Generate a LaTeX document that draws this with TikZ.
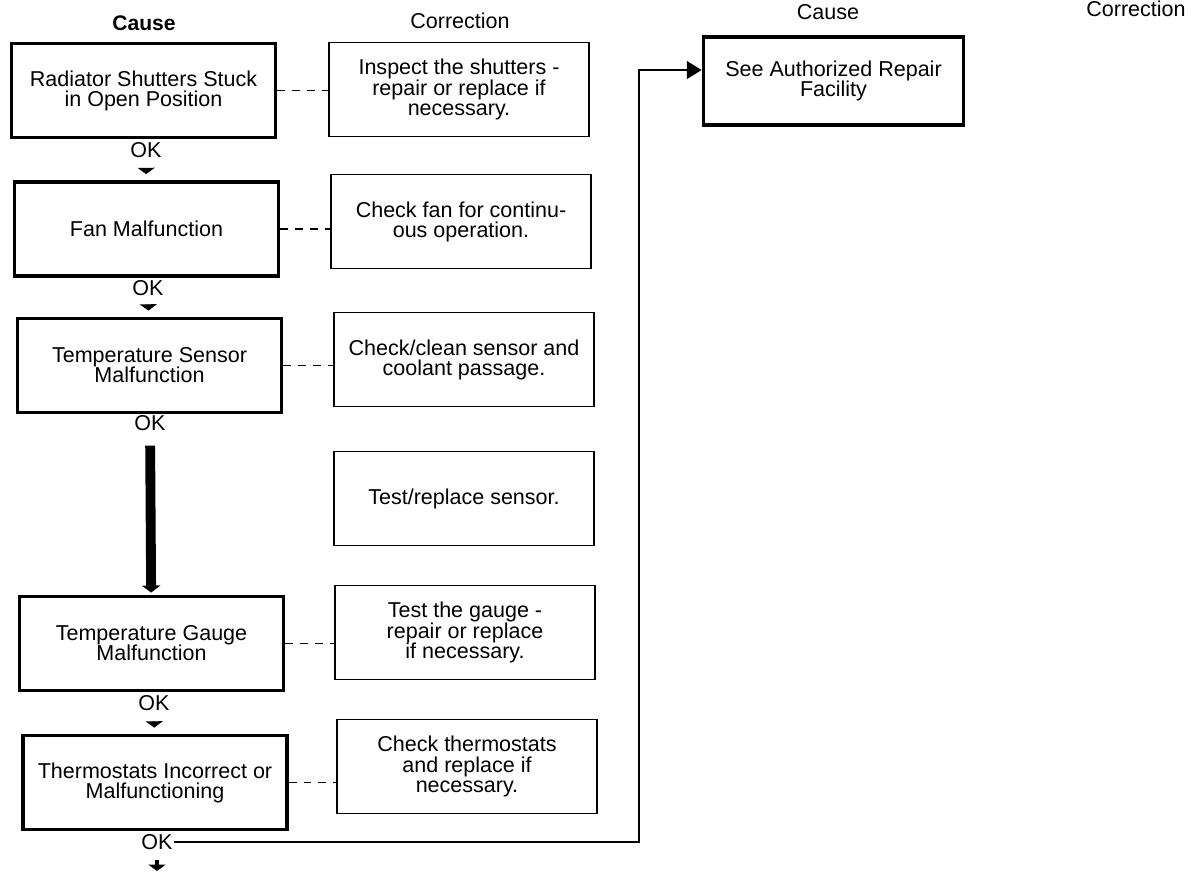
\documentclass[tikz,border=0pt]{standalone}
\usepackage{fontspec}
\setmainfont{Liberation Sans}
\usetikzlibrary{arrows.meta}

\begin{document}
\begin{tikzpicture}[
  x=0.025cm,y=-0.025cm,
  every node/.style={font=\fontsize{15.3}{14.3}\selectfont},
  head/.style={inner sep=1pt},
  causebox/.style={rectangle,draw,line width=2.6pt,minimum width=6.6cm,minimum height=2.35cm,align=center},
  fixbox/.style={rectangle,draw,line width=1.2pt,minimum width=6.5cm,minimum height=2.35cm,align=center},
  oklabel/.style={inner sep=1pt},
  link/.style={line width=1.3pt,dash pattern=on 5.5pt off 5pt},
  okarrow/.style={line width=3.5pt,-{Triangle[width=12pt,length=4.5pt]},shorten <=6.5pt,shorten >=4.3pt},
  bigarrow/.style={line width=7pt,-{Triangle[width=13pt,length=5pt]},shorten <=9.5pt,shorten >=1.5pt},
  arrow/.style={line width=1.6pt,-{Triangle[width=12.5pt,length=10.5pt]}}
]
  \useasboundingbox (0,0) rectangle (1198,871);
  % headings
  \node[head,font=\fontsize{15}{16}\selectfont\bfseries] (hcause) at (144,23) {Cause};
  \node[head] (hfix) at (460,21) {Correction};
  \node[head] (hcause2) at (828,12) {Cause};
  \node[head] (hfix2) at (1136,9) {Correction};
  % causes
  \node[causebox] (rad) at (143.5,90.5) {Radiator Shutters Stuck\\in Open Position};
  \node[causebox] (fan) at (146.5,229) {Fan Malfunction};
  \node[causebox] (sensor) at (149.5,365.5) {Temperature Sensor\\Malfunction};
  \node[causebox] (gauge) at (151.5,643.5) {Temperature Gauge\\Malfunction};
  \node[causebox] (thermo) at (155,782.5) {Thermostats Incorrect or\\Malfunctioning};
  \node[causebox,minimum width=6.5cm,minimum height=2.2cm] (repair) at (833.5,81) {See Authorized Repair\\Facility};
  % corrections
  \node[fixbox] (fix1) at (459,89.5) {Inspect the shutters -\\repair or replace if\\necessary.};
  \node[fixbox] (fix2) at (461,221.5) {Check fan for continu-\\ous operation.};
  \node[fixbox] (fix3) at (464,359.5) {Check/clean sensor and\\coolant passage.};
  \node[fixbox] (fix4) at (464,498.5) {Test/replace sensor.};
  \node[fixbox] (fix5) at (465,632.5) {Test the gauge -\\repair or replace\\if necessary.};
  \node[fixbox] (fix6) at (467,766.5) {Check thermostats\\and replace if\\necessary.};
  % OK labels
  \node[oklabel] (ok1) at (146,150) {OK};
  \node[oklabel] (ok2) at (148,288) {OK};
  \node[oklabel] (ok3) at (150,423) {OK};
  \node[oklabel] (ok4) at (154,703) {OK};
  \node[oklabel] (ok5) at (157,842) {OK};
  \coordinate (turn) at (639,842);
  \coordinate (down) at (157,871);
  % dashed links
  \draw[link] (rad) -- (fix1.west |- rad);
  \draw[link] (fan) -- (fix2.west |- fan);
  \draw[link] (sensor) -- (fix3.west |- sensor);
  \draw[link] (gauge) -- (fix5.west |- gauge);
  \draw[link] (thermo) -- (fix6.west |- thermo);
  % flow
  \draw[okarrow] (ok1) -- (fan);
  \draw[okarrow] (ok2) -- (sensor);
  \draw[bigarrow] (ok3) -- (gauge);
  \draw[okarrow] (ok4) -- (thermo);
  \draw[okarrow,shorten >=0pt] (ok5) -- (down);
  \draw[arrow] (ok5) -- (turn) |- ([yshift=7.8pt]repair.west);
\end{tikzpicture}
\end{document}
